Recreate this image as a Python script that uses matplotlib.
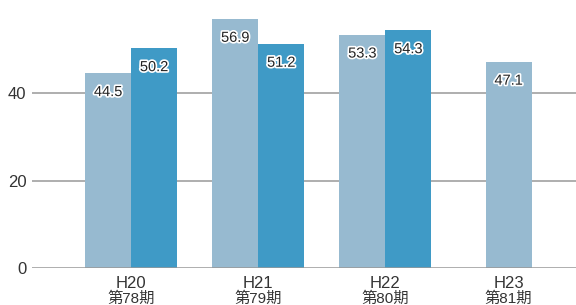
import matplotlib
matplotlib.use("Agg")
import matplotlib.pyplot as plt
import matplotlib.patheffects as pe
import numpy as np

plt.rcParams['font.family'] = ['Liberation Sans', 'Noto Sans CJK JP']

categories = ["H20", "H21", "H22", "H23"]
periods = ["第78期", "第79期", "第80期", "第81期"]
series_a = [44.5, 56.9, 53.3, 47.1]
series_b = [50.2, 51.2, 54.3, None]
yticks = [0, 20, 40]

color_a = "#97bad0"
color_b = "#3f9ac6"

fig = plt.figure(figsize=(5.76, 3.05), dpi=100)
ax = fig.add_axes([32/576, 37/305, 544/576, 268/305])

x = np.array([0, 1, 2, 2.97])
w = 0.362
for i in range(len(categories)):
    if series_b[i] is None:
        ax.bar([x[i]], [series_a[i]], width=w, color=color_a, zorder=2)
        pos = [(x[i], series_a[i])]
    else:
        ax.bar([x[i] - w/2], [series_a[i]], width=w, color=color_a, zorder=2)
        ax.bar([x[i] + w/2], [series_b[i]], width=w, color=color_b, zorder=2)
        pos = [(x[i] - w/2, series_a[i]), (x[i] + w/2, series_b[i])]
    for px, v in pos:
        ax.annotate(f"{v:.1f}", xy=(px, v), xytext=(0, -13.5), textcoords="offset points",
                    ha="center", va="center", fontsize=10.5, color="#222222", zorder=5,
                    path_effects=[pe.withStroke(linewidth=2.4, foreground="white")])

ax.set_xlim(-0.78, 3.5)
ax.set_ylim(0, 61.26)
ax.set_yticks(yticks)
ax.set_yticklabels([str(t) for t in yticks], fontsize=12, color="#333333")
ax.tick_params(axis="y", length=0, pad=4)
ax.set_xticks([])
for s in ax.spines.values():
    s.set_visible(False)
for t in yticks:
    ax.axhline(t, color="#999999", linewidth=1.1, zorder=1 if t else 3)

for i in range(len(categories)):
    ax.annotate(categories[i], xy=(x[i], 0), xycoords=("data", "axes fraction"),
                xytext=(0, -11), textcoords="offset points", ha="center", va="center",
                fontsize=12, color="#333333")
    ax.annotate(periods[i], xy=(x[i], 0), xycoords=("data", "axes fraction"),
                xytext=(0, -22), textcoords="offset points", ha="center", va="center",
                fontsize=11, color="#333333")

fig.savefig("out.png", dpi=100)
